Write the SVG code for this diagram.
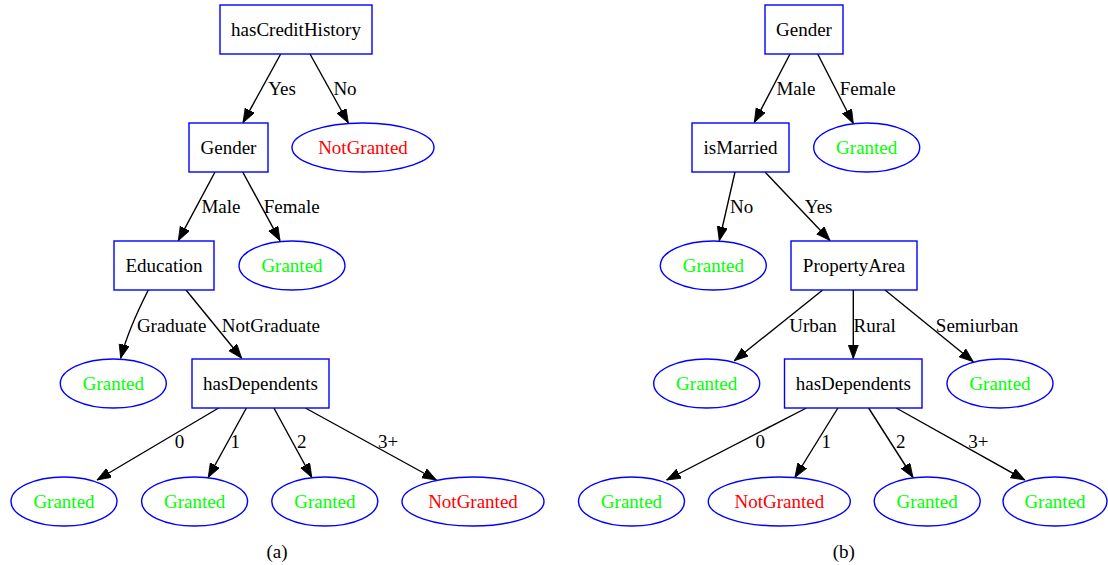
<svg xmlns="http://www.w3.org/2000/svg" width="1108" height="565" viewBox="0 0 1108 565">
<style>
.box{fill:#fff;stroke:#0000ff;stroke-width:1.4}
.ell{fill:#fff;stroke:#0000ff;stroke-width:1.4}
.t{font-family:"Liberation Serif","Times New Roman",serif;font-size:19px;text-anchor:middle;fill:#000}
.g{fill:#00ff00}
.r{fill:#ff0000}
.e{stroke:#000;stroke-width:1.4;fill:none;marker-end:url(#ah)}
.lbl{font-family:"Liberation Serif","Times New Roman",serif;font-size:19px;text-anchor:middle;fill:#000}
.cap{font-family:"Liberation Serif","Times New Roman",serif;font-size:19px;text-anchor:middle;fill:#000}
</style>
<defs>
<marker id="ah" markerUnits="userSpaceOnUse" markerWidth="16" markerHeight="12" refX="14" refY="5.2" orient="auto">
<path d="M0,0 L14,5.2 L0,10.4 z" fill="#000" stroke="#000" stroke-width="0.8"/>
</marker>
</defs>
<rect width="1108" height="565" fill="#fff"/>
<g id="connectors">
<line class="e" x1="280.7" y1="54" x2="243" y2="122.7"/>
<line class="e" x1="310" y1="54" x2="348.3" y2="123"/>
<line class="e" x1="215" y1="172" x2="178.3" y2="240.7"/>
<line class="e" x1="242.7" y1="172" x2="280" y2="240.7"/>
<path class="e" d="M148.3,290 Q128,330 120.7,358.3"/>
<line class="e" x1="186" y1="290" x2="241.7" y2="358.3"/>
<line class="e" x1="218.6" y1="408" x2="97" y2="480"/>
<line class="e" x1="246.4" y1="408" x2="208.2" y2="477.5"/>
<line class="e" x1="273.9" y1="408" x2="311.8" y2="477.5"/>
<line class="e" x1="305.4" y1="408" x2="436.4" y2="480"/>
<line class="e" x1="790" y1="54" x2="754.3" y2="122.5"/>
<line class="e" x1="817.7" y1="54" x2="853.3" y2="123.5"/>
<line class="e" x1="735" y1="172" x2="719.3" y2="240.7"/>
<line class="e" x1="765" y1="172" x2="830" y2="240.5"/>
<line class="e" x1="822.7" y1="290" x2="734.3" y2="360.7"/>
<line class="e" x1="853.3" y1="290" x2="853.3" y2="358.5"/>
<line class="e" x1="885" y1="290" x2="973.3" y2="361.7"/>
<line class="e" x1="806.4" y1="408" x2="666.6" y2="480"/>
<line class="e" x1="837.9" y1="408" x2="794.9" y2="477.5"/>
<line class="e" x1="868.6" y1="408" x2="913" y2="477.5"/>
<line class="e" x1="896.2" y1="408" x2="1024.9" y2="480"/>
<text class="lbl" x="282" y="94.5">Yes</text>
<text class="lbl" x="345" y="94.5">No</text>
<text class="lbl" x="221" y="212.5">Male</text>
<text class="lbl" x="291.7" y="212.5">Female</text>
<text class="lbl" x="171.7" y="331.5">Graduate</text>
<text class="lbl" x="270.8" y="331.5">NotGraduate</text>
<text class="lbl" x="179.5" y="447.5">0</text>
<text class="lbl" x="235.3" y="447.5">1</text>
<text class="lbl" x="301.8" y="447.5">2</text>
<text class="lbl" x="388" y="447.5">3+</text>
<text class="lbl" x="796" y="94.5">Male</text>
<text class="lbl" x="867.7" y="94.5">Female</text>
<text class="lbl" x="741.7" y="212.5">No</text>
<text class="lbl" x="818.7" y="212.5">Yes</text>
<text class="lbl" x="813" y="331.5">Urban</text>
<text class="lbl" x="874.7" y="331.5">Rural</text>
<text class="lbl" x="977" y="331.5">Semiurban</text>
<text class="lbl" x="760.3" y="447.5">0</text>
<text class="lbl" x="826.3" y="447.5">1</text>
<text class="lbl" x="900.8" y="447.5">2</text>
<text class="lbl" x="978.4" y="447.5">3+</text>
</g>
<g id="a_hasCreditHistory"><rect class="box" x="220" y="5" width="152" height="49"/><text class="t" x="296" y="36">hasCreditHistory</text></g>
<g id="a_Gender"><rect class="box" x="189" y="123" width="79" height="49"/><text class="t" x="228.5" y="154">Gender</text></g>
<g id="a_NotGranted1"><ellipse class="ell" cx="363" cy="147.5" rx="71" ry="24.5"/><text class="t r" x="363" y="154">NotGranted</text></g>
<g id="a_Education"><rect class="box" x="114" y="241" width="100" height="49"/><text class="t" x="164" y="272">Education</text></g>
<g id="a_Granted1"><ellipse class="ell" cx="292" cy="265.5" rx="53" ry="24.5"/><text class="t g" x="292" y="272">Granted</text></g>
<g id="a_Granted2"><ellipse class="ell" cx="113.3" cy="383.5" rx="53" ry="24.5"/><text class="t g" x="113.3" y="390">Granted</text></g>
<g id="a_hasDependents"><rect class="box" x="192" y="359" width="137" height="49"/><text class="t" x="260.5" y="390">hasDependents</text></g>
<g id="a_Granted3"><ellipse class="ell" cx="64" cy="501.5" rx="53" ry="24.5"/><text class="t g" x="64" y="508">Granted</text></g>
<g id="a_Granted4"><ellipse class="ell" cx="194.6" cy="501.5" rx="53" ry="24.5"/><text class="t g" x="194.6" y="508">Granted</text></g>
<g id="a_Granted5"><ellipse class="ell" cx="324.8" cy="501.5" rx="53" ry="24.5"/><text class="t g" x="324.8" y="508">Granted</text></g>
<g id="a_NotGranted2"><ellipse class="ell" cx="473" cy="501.5" rx="71" ry="24.5"/><text class="t r" x="473" y="508">NotGranted</text></g>
<g id="b_Gender"><rect class="box" x="765" y="5" width="78" height="49"/><text class="t" x="804" y="36">Gender</text></g>
<g id="b_isMarried"><rect class="box" x="692" y="123" width="97" height="49"/><text class="t" x="740.5" y="154">isMarried</text></g>
<g id="b_Granted1"><ellipse class="ell" cx="866.7" cy="147.5" rx="53" ry="24.5"/><text class="t g" x="866.7" y="154">Granted</text></g>
<g id="b_Granted2"><ellipse class="ell" cx="713.3" cy="265.5" rx="53" ry="24.5"/><text class="t g" x="713.3" y="272">Granted</text></g>
<g id="b_PropertyArea"><rect class="box" x="791" y="241" width="126" height="49"/><text class="t" x="854" y="272">PropertyArea</text></g>
<g id="b_Granted3"><ellipse class="ell" cx="706.7" cy="383.5" rx="53" ry="24.5"/><text class="t g" x="706.7" y="390">Granted</text></g>
<g id="b_hasDependents"><rect class="box" x="784.5" y="359" width="137.5" height="49"/><text class="t" x="853.3" y="390">hasDependents</text></g>
<g id="b_Granted4"><ellipse class="ell" cx="1000" cy="383.5" rx="53" ry="24.5"/><text class="t g" x="1000" y="390">Granted</text></g>
<g id="b_Granted5"><ellipse class="ell" cx="631.5" cy="501.5" rx="53" ry="24.5"/><text class="t g" x="631.5" y="508">Granted</text></g>
<g id="b_NotGranted"><ellipse class="ell" cx="779.3" cy="501.5" rx="71" ry="24.5"/><text class="t r" x="779.3" y="508">NotGranted</text></g>
<g id="b_Granted6"><ellipse class="ell" cx="927.2" cy="501.5" rx="53" ry="24.5"/><text class="t g" x="927.2" y="508">Granted</text></g>
<g id="b_Granted7"><ellipse class="ell" cx="1055" cy="501.5" rx="52" ry="24.5"/><text class="t g" x="1055" y="508">Granted</text></g>
<text class="cap" x="277" y="557.5">(a)</text>
<text class="cap" x="843.8" y="557.5">(b)</text>
</svg>
